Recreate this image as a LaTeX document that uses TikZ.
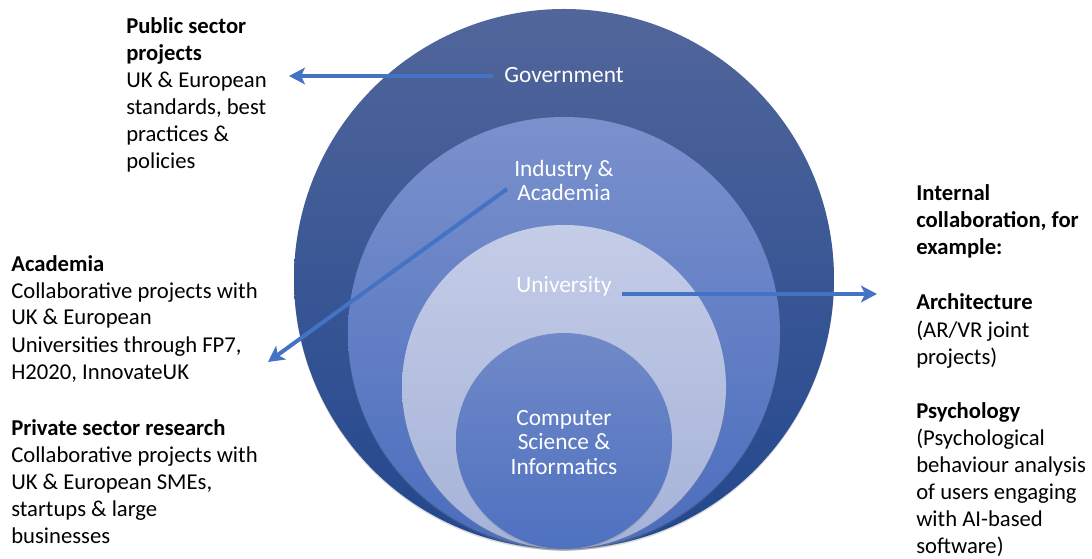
\documentclass[tikz,border=0pt]{standalone}
\usepackage{fontspec}
\setmainfont{Carlito}
\usetikzlibrary{arrows.meta,shadows}

\definecolor{govtop}{HTML}{51669B}
\definecolor{govbot}{HTML}{22478E}
\definecolor{indtop}{HTML}{7A91CC}
\definecolor{indbot}{HTML}{4B6DBE}
\definecolor{unitop}{HTML}{C4CCE7}
\definecolor{unibot}{HTML}{A5B2D8}
\definecolor{csitop}{HTML}{7189C8}
\definecolor{csibot}{HTML}{4E71C0}
\definecolor{arrowblue}{HTML}{4472C4}

\begin{document}
\begin{tikzpicture}[
            x = 0.75pt, y = -0.75pt,
            ring/.style = {circle, inner sep = 0pt, draw = none,
                drop shadow = {opacity = 0.3, shadow xshift = 0pt, shadow yshift = -1.2pt}},
            ringlabel/.style = {text = white, align = center, anchor = base, inner sep = 0pt,
                font = \fontsize{17.5}{18.3}\selectfont},
            blurb/.style = {align = left, anchor = base west, inner sep = 0pt,
                font = \fontsize{17}{20.25}\selectfont},
            link/.style = {draw = arrowblue, line width = 3pt,
                -{Stealth[length = 12pt, width = 12.5pt, inset = 3pt]}}
        ]
        \useasboundingbox (0,0) rectangle (1092,559);

        % nested circles, all touching at the bottom
        \node[ring, minimum size = 405pt, top color = govtop, bottom color = govbot] (gov) at (564,279) {};
        \node[ring, minimum size = 324pt, top color = indtop, bottom color = indbot] (ind) at (564,333) {};
        \node[ring, minimum size = 243pt, top color = unitop, bottom color = unibot] (uni) at (564,387) {};
        \node[ring, minimum size = 162pt, top color = csitop, bottom color = csibot] (csi) at (564,441) {};

        % labels sit on the baseline of their last line
        \node[ringlabel] (govtext) at (564,83) {Government};
        \node[ringlabel] (indtext) at (564,201) {Industry \&\\Academia};
        \node[ringlabel] (unitext) at (564,293) {University};
        \node[ringlabel] (csitext) at (564,474) {Computer\\Science \&\\Informatics};

        % texts round the circles
        \node[blurb] (public) at (126,169) {\textbf{Public sector}\\\textbf{projects}\\UK \& European\\standards, best\\practices \&\\policies};
        \node[blurb] (academia) at (11,379) {\textbf{Academia}\\Collaborative projects with\\UK \& European\\Universities through FP7,\\H2020, InnovateUK};
        \node[blurb] (private) at (11,543) {\textbf{Private sector research}\\Collaborative projects with\\UK \& European SMEs,\\startups \& large\\businesses};
        \node[blurb] (internal) at (916,255) {\textbf{Internal}\\\textbf{collaboration, for}\\\textbf{example:}};
        \node[blurb] (archi) at (916,364) {\textbf{Architecture}\\(AR/VR joint\\projects)};
        \node[blurb] (psych) at (916,553) {\textbf{Psychology}\\(Psychological\\behaviour analysis\\of users engaging\\with AI-based\\software)};

        % arrows
        \coordinate (govtail) at (493,76);
        \coordinate (pubhead) at (289,76);
        \coordinate (indtail) at (507,189);
        \coordinate (acahead) at (268,362);
        \coordinate (unitail) at (622,294);
        \coordinate (inthead) at (877,294);
        \draw[link] (govtail) -- (pubhead);
        \draw[link] (indtail) -- (acahead);
        \draw[link] (unitail) -- (inthead);
    \end{tikzpicture}
\end{document}
